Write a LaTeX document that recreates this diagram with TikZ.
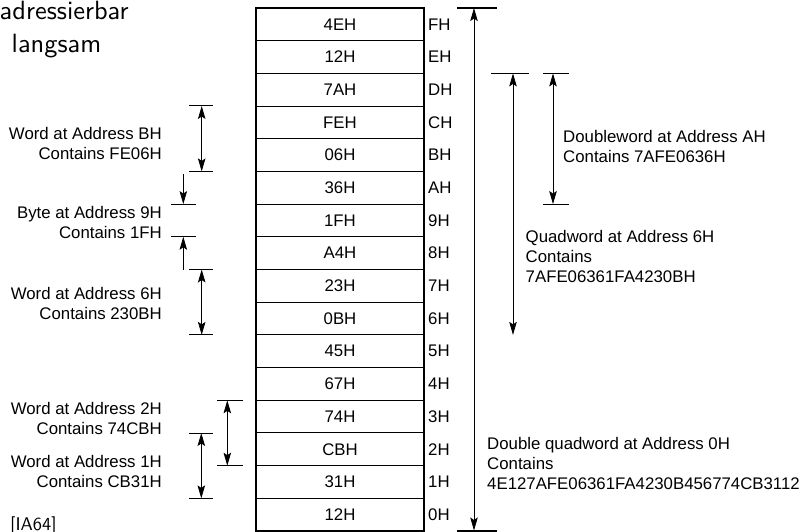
\documentclass[tikz,border=0pt]{standalone}
\usepackage{fontspec}
\setmainfont{Liberation Sans}
\newfontfamily\slidefont{lmsans10-regular.otf}
\usetikzlibrary{arrows.meta}
\tikzset{
  txt/.style={font=\fontsize{16.8}{20}\selectfont, inner sep=0pt},
  cell/.style={txt, draw, line width=0.9pt, minimum width=168pt, minimum height=32.6875pt},
  addr/.style={txt, anchor=west},
  lbl/.style={txt, align=right, anchor=east},
  rlbl/.style={txt, align=left, anchor=west},
  tip/.tip={Stealth[length=13pt,width=7.5pt,inset=2.5pt]},
  dim/.style={line width=0.8pt, tip-tip},
  oneway/.style={line width=0.8pt, -tip},
  tick/.style={line width=1pt},
  bigtick/.style={line width=2pt},
  slide/.style={font=\slidefont\fontsize{26.4}{32}\selectfont, inner sep=0pt, anchor=base west},
}
\begin{document}
\begin{tikzpicture}[x=1pt,y=-1pt]
\useasboundingbox (0,0) rectangle (804,532);
% slide text
\node[slide] (t1) at (-0.5,19.2) {adressierbar};
\node[slide] (t2) at (11.5,52.8) {langsam};
\node[font=\slidefont\fontsize{18.4}{20}\selectfont, inner sep=0pt, anchor=base west] (src) at (10,530) {[IA64]};
% table
\foreach \v/\a [count=\i from 0] in {4EH/FH,12H/EH,7AH/DH,FEH/CH,06H/BH,36H/AH,1FH/9H,A4H/8H,23H/7H,0BH/6H,45H/5H,67H/4H,74H/3H,CBH/2H,31H/1H,12H/0H} {
  \node[cell] (c\i) at (340,{8+32.6875*(\i+0.5)}) {\v};
  \node[addr] (a\i) at (428,{8+32.6875*(\i+0.5)}) {\a};
}
\draw[line width=2pt] (c0.north west) rectangle (c15.south east);
% double quadword
\coordinate (dqT) at (474,8);
\coordinate (dqB) at (474,530.5);
\coordinate (dqTl) at (457,8); \coordinate (dqTr) at (497,8);
\coordinate (dqBl) at (457,530.5); \coordinate (dqBr) at (497,530.5);
\draw[bigtick] (dqTl) -- (dqTr);
\draw[bigtick] (dqBl) -- (dqBr);
\draw[dim] (dqT) -- (dqB);
\node[rlbl] (dq) at (487,463.5) {Double quadword at Address 0H\\Contains\\4E127AFE06361FA4230B456774CB3112};
% quadword
\coordinate (qT) at (513,73.4);
\coordinate (qB) at (513,334.9);
\coordinate (qTl) at (491,73.4); \coordinate (qTr) at (529,73.4);
\draw[tick] (qTl) -- (qTr);
\draw[dim] (qT) -- (qB);
\node[rlbl] (q) at (525.5,256.7) {Quadword at Address 6H\\Contains\\7AFE06361FA4230BH};
% doubleword
\coordinate (dT) at (553,73.4);
\coordinate (dB) at (553,204.1);
\coordinate (dTl) at (543,73.4); \coordinate (dTr) at (569,73.4);
\coordinate (dBl) at (543,204.1); \coordinate (dBr) at (569,204.1);
\draw[tick] (dTl) -- (dTr);
\draw[tick] (dBl) -- (dBr);
\draw[dim] (dT) -- (dB);
\node[rlbl] (d) at (563,146) {Doubleword at Address AH\\Contains 7AFE0636H};
% word at BH
\coordinate (wbT) at (201.7,106); \coordinate (wbB) at (201.7,171.4);
\coordinate (wbTl) at (189,106); \coordinate (wbTr) at (213,106);
\coordinate (wbBl) at (189,171.4); \coordinate (wbBr) at (213,171.4);
\draw[tick] (wbTl) -- (wbTr);
\draw[tick] (wbBl) -- (wbBr);
\draw[dim] (wbT) -- (wbB);
\node[lbl] (wb) at (162,143) {Word at Address BH\\Contains FE06H};
% byte at 9H
\coordinate (b1s) at (183.3,174); \coordinate (b1e) at (183.3,204.1);
\coordinate (b2s) at (183.3,270); \coordinate (b2e) at (183.3,236.8);
\coordinate (bTl) at (171,204.1); \coordinate (bTr) at (196,204.1);
\coordinate (bBl) at (171,236.8); \coordinate (bBr) at (196,236.8);
\draw[tick] (bTl) -- (bTr);
\draw[tick] (bBl) -- (bBr);
\draw[oneway] (b1s) -- (b1e);
\draw[oneway] (b2s) -- (b2e);
\node[lbl] (by) at (162,222) {Byte at Address 9H\\Contains 1FH};
% word at 6H
\coordinate (w6T) at (201.7,269.5); \coordinate (w6B) at (201.7,334.9);
\coordinate (w6Tl) at (189,269.5); \coordinate (w6Tr) at (213,269.5);
\coordinate (w6Bl) at (189,334.9); \coordinate (w6Br) at (213,334.9);
\draw[tick] (w6Tl) -- (w6Tr);
\draw[tick] (w6Bl) -- (w6Br);
\draw[dim] (w6T) -- (w6B);
\node[lbl] (w6) at (162,303) {Word at Address 6H\\Contains 230BH};
% word at 2H
\coordinate (w2T) at (227.3,400.3); \coordinate (w2B) at (227.3,465.7);
\coordinate (w2Tl) at (217,400.3); \coordinate (w2Tr) at (243,400.3);
\coordinate (w2Bl) at (217,465.7); \coordinate (w2Br) at (243,465.7);
\draw[tick] (w2Tl) -- (w2Tr);
\draw[tick] (w2Bl) -- (w2Br);
\draw[dim] (w2T) -- (w2B);
\node[lbl] (w2) at (162,418) {Word at Address 2H\\Contains 74CBH};
% word at 1H
\coordinate (w1T) at (201.3,433); \coordinate (w1B) at (201.3,498.4);
\coordinate (w1Tl) at (189,433); \coordinate (w1Tr) at (213,433);
\coordinate (w1Bl) at (189,498.4); \coordinate (w1Br) at (213,498.4);
\draw[tick] (w1Tl) -- (w1Tr);
\draw[tick] (w1Bl) -- (w1Br);
\draw[dim] (w1T) -- (w1B);
\node[lbl] (w1) at (162,471) {Word at Address 1H\\Contains CB31H};
\end{tikzpicture}
\end{document}
